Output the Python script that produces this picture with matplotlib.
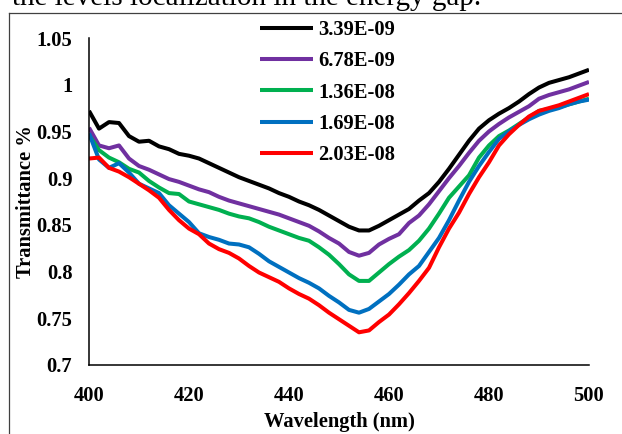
import matplotlib
matplotlib.use("Agg")
import matplotlib.pyplot as plt
from matplotlib.lines import Line2D

wavelength = list(range(400, 501, 2))

s_339e09 = [0.972, 0.953, 0.960, 0.959, 0.945, 0.939, 0.940, 0.934, 0.931, 0.926,
            0.924, 0.921, 0.916, 0.911, 0.906, 0.901, 0.897, 0.893, 0.889, 0.884,
            0.880, 0.875, 0.871, 0.866, 0.860, 0.854, 0.848, 0.844, 0.844, 0.849,
            0.855, 0.861, 0.867, 0.876, 0.884, 0.896, 0.910, 0.925, 0.940, 0.953,
            0.962, 0.969, 0.975, 0.982, 0.990, 0.997, 1.002, 1.005, 1.008, 1.012, 1.016]
s_678e09 = [0.954, 0.935, 0.932, 0.935, 0.921, 0.913, 0.909, 0.904, 0.899, 0.896,
            0.892, 0.888, 0.885, 0.880, 0.876, 0.873, 0.870, 0.867, 0.864, 0.861,
            0.857, 0.853, 0.849, 0.843, 0.836, 0.830, 0.821, 0.817, 0.820, 0.829,
            0.835, 0.840, 0.852, 0.860, 0.872, 0.886, 0.900, 0.913, 0.927, 0.940,
            0.950, 0.958, 0.965, 0.971, 0.977, 0.985, 0.989, 0.992, 0.995, 0.999, 1.003]
s_136e08 = [0.946, 0.930, 0.922, 0.917, 0.910, 0.906, 0.897, 0.890, 0.884, 0.883,
            0.875, 0.872, 0.869, 0.866, 0.862, 0.859, 0.857, 0.853, 0.848, 0.844,
            0.840, 0.836, 0.833, 0.826, 0.818, 0.808, 0.797, 0.790, 0.790, 0.799,
            0.808, 0.816, 0.823, 0.833, 0.846, 0.862, 0.879, 0.891, 0.903, 0.922,
            0.935, 0.945, 0.951, 0.958, 0.965, 0.972, 0.974, 0.976, 0.979, 0.982, 0.985]
s_169e08 = [0.948, 0.920, 0.911, 0.916, 0.906, 0.894, 0.889, 0.884, 0.871, 0.862,
            0.853, 0.841, 0.837, 0.834, 0.830, 0.829, 0.826, 0.819, 0.811, 0.805,
            0.799, 0.793, 0.788, 0.782, 0.774, 0.767, 0.759, 0.756, 0.760, 0.768,
            0.776, 0.786, 0.797, 0.806, 0.821, 0.836, 0.855, 0.876, 0.896, 0.913,
            0.928, 0.942, 0.950, 0.957, 0.963, 0.968, 0.972, 0.975, 0.979, 0.982, 0.984]
s_203e08 = [0.921, 0.922, 0.911, 0.907, 0.901, 0.894, 0.887, 0.879, 0.866, 0.855,
            0.846, 0.840, 0.830, 0.824, 0.820, 0.814, 0.806, 0.799, 0.794, 0.789,
            0.782, 0.776, 0.771, 0.764, 0.756, 0.749, 0.742, 0.735, 0.737, 0.746,
            0.754, 0.765, 0.777, 0.790, 0.804, 0.826, 0.846, 0.863, 0.883, 0.901,
            0.917, 0.935, 0.947, 0.957, 0.966, 0.972, 0.975, 0.978, 0.982, 0.986, 0.990]

series_labels = ["3.39E-09", "6.78E-09", "1.36E-08", "1.69E-08", "2.03E-08"]
series_values = [s_339e09, s_678e09, s_136e08, s_169e08, s_203e08]
series_colors = ["#000000", "#7030A0", "#00B050", "#0070C0", "#FF0000"]

xticks = [400, 420, 440, 460, 480, 500]
yticks = [0.7, 0.75, 0.8, 0.85, 0.9, 0.95, 1.0, 1.05]
ytick_labels = ["0.7", "0.75", "0.8", "0.85", "0.9", "0.95", "1", "1.05"]

serif = ["Liberation Serif", "DejaVu Serif"]
W, H = 622, 434
fig = plt.figure(figsize=(W / 100, H / 100), dpi=100)
fig.patch.set_facecolor("white")

L, R, T, B = 89, 589, 38, 365
ax = fig.add_axes([L / W, 1 - B / H, (R - L) / W, (B - T) / H])

for vals, lab, col in zip(series_values, series_labels, series_colors):
    ax.plot(wavelength, vals, color=col, lw=2.9, label=lab, solid_capstyle="butt")

ax.set_xlim(400, 500)
ax.set_ylim(0.7, 1.05)
ax.set_xticks(xticks)
ax.set_xticklabels([str(v) for v in xticks])
ax.set_yticks(yticks)
ax.set_yticklabels(ytick_labels)
for sp in ["top", "right"]:
    ax.spines[sp].set_visible(False)
for sp in ["left", "bottom"]:
    ax.spines[sp].set_linewidth(1.1)
    ax.spines[sp].set_color("black")
ax.tick_params(axis="x", length=0, pad=15)
ax.tick_params(axis="y", length=0, pad=12)
for lbl in ax.get_xticklabels() + ax.get_yticklabels():
    lbl.set_fontfamily(serif)
    lbl.set_fontweight("bold")
    lbl.set_fontsize(14.8)

fig.text(339 / W, 1 - 422 / H, "Wavelength (nm)", family=serif, weight="bold",
         fontsize=14.8, ha="center", va="center")
fig.text(26 / W, 1 - 202 / H, "Transmittance %", family=serif, weight="bold",
         fontsize=14.8, ha="center", va="center", rotation=90)

leg = fig.legend(loc="upper left", bbox_to_anchor=(260 / W, 1 - 20 / H),
                 frameon=False, borderpad=0, borderaxespad=0, handlelength=2.6,
                 handletextpad=0.25, labelspacing=0.55,
                 prop={"family": serif, "weight": "bold", "size": 14.8})

fig.text(12 / W, 1 - 5 / H, "the levels localization in the energy gap.",
         family=serif, fontsize=21, ha="left", va="baseline")

fig.add_artist(Line2D([9 / W, 1.0], [1 - 13 / H, 1 - 13 / H], transform=fig.transFigure,
                      color="#404040", lw=0.9))
fig.add_artist(Line2D([9 / W, 9 / W], [0.0, 1 - 13 / H], transform=fig.transFigure,
                      color="#404040", lw=0.9))

fig.savefig("out.png", dpi=100, facecolor="white")
